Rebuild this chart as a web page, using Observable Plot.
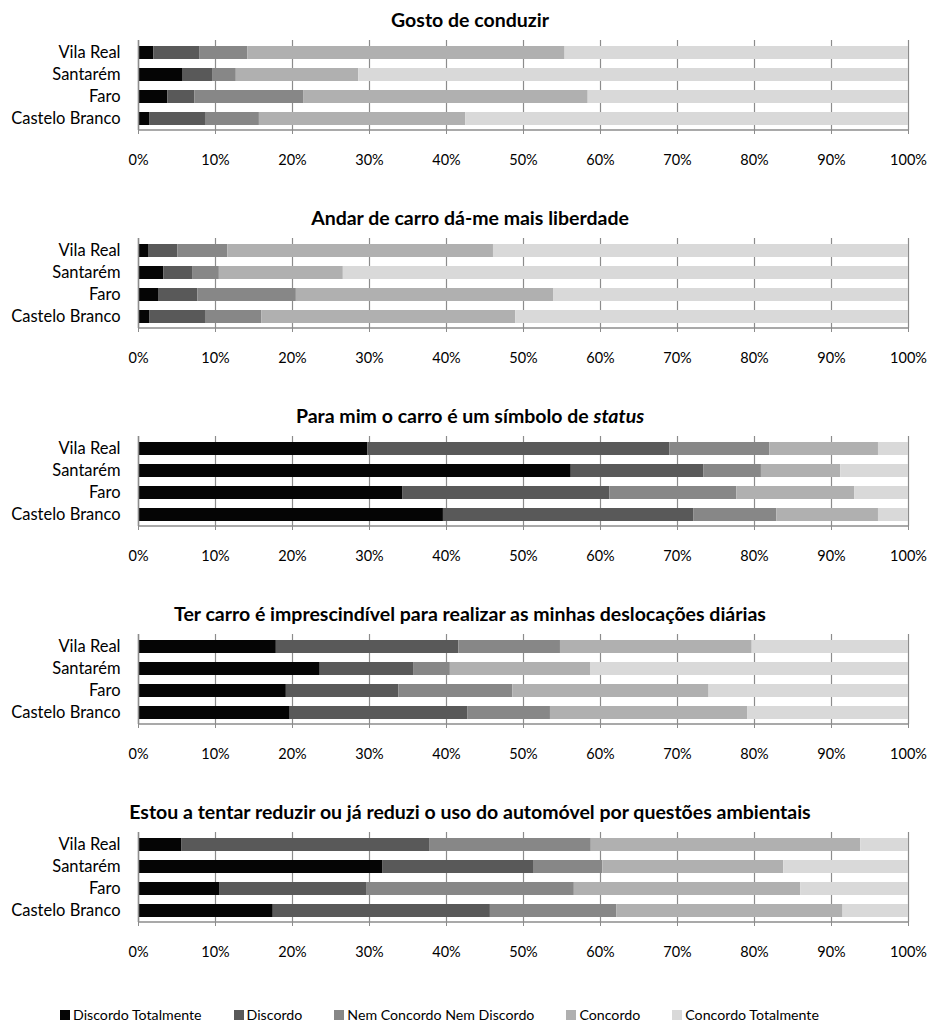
<!DOCTYPE html>
<html><head><meta charset="utf-8">
<script src="https://cdn.jsdelivr.net/npm/d3@7"></script>
<script src="https://cdn.jsdelivr.net/npm/@observablehq/plot@0.6"></script>
<style>
body{margin:0;background:#fff;font-family:Lato, "Noto Sans", sans-serif;color:#000;}
.panel{width:932px;height:198px;overflow:hidden;}
.title{height:34px;line-height:40px;text-align:center;font-weight:bold;font-size:19.5px;padding-left:8px;box-sizing:border-box;white-space:nowrap;}
#legend{display:flex;padding-left:60px;margin-top:15px;font-size:14.2px;line-height:20px;}
.item{display:flex;align-items:center;margin-right:32px;}
.sw{width:10px;height:10px;margin-right:3px;}
</style></head><body><div id="chart"></div><div id="legend"></div>
<script>
const cities = ["Vila Real", "Santarém", "Faro", "Castelo Branco"];
const levels = ["Discordo Totalmente", "Discordo", "Nem Concordo Nem Discordo", "Concordo", "Concordo Totalmente"];
const colors = ["#050505", "#595959", "#878787", "#b0b0b0", "#d9d9d9"];
const titles = [
  "Gosto de conduzir",
  "Andar de carro dá-me mais liberdade",
  "Para mim o carro é um símbolo de <i>status</i>",
  "Ter carro é imprescindível para realizar as minhas deslocações diárias",
  "Estou a tentar reduzir ou já reduzi o uso do automóvel por questões ambientais"
];
const xTicks = [0, 10, 20, 30, 40, 50, 60, 70, 80, 90, 100];

// values per city (rows, in cities order), per level (columns, in levels order)
const gostoConduzir = [
  [2.0, 6.0, 6.2, 41.2, 44.6],
  [5.8, 3.9, 3.0, 15.9, 71.4],
  [3.8, 3.5, 14.2, 36.9, 41.6],
  [1.5, 7.2, 7.0, 26.8, 57.5]
];
const liberdade = [
  [1.3, 3.8, 6.5, 34.5, 53.9],
  [3.3, 3.8, 3.4, 16.1, 73.4],
  [2.6, 5.1, 12.8, 33.4, 46.1],
  [1.5, 7.2, 7.3, 33.0, 51.0]
];
const simboloStatus = [
  [29.8, 39.2, 13.0, 14.1, 3.9],
  [56.2, 17.2, 7.5, 10.3, 8.8],
  [34.3, 26.9, 16.5, 15.3, 7.0],
  [39.6, 32.5, 10.8, 13.2, 3.9]
];
const imprescindivel = [
  [17.9, 23.7, 13.2, 24.9, 20.3],
  [23.6, 12.2, 4.7, 18.2, 41.3],
  [19.2, 14.6, 14.8, 25.5, 25.9],
  [19.7, 23.1, 10.7, 25.6, 20.9]
];
const reduzirUso = [
  [5.6, 32.2, 21.0, 35.0, 6.2],
  [31.7, 19.6, 9.0, 23.5, 16.2],
  [10.6, 19.1, 26.9, 29.4, 14.0],
  [17.5, 28.2, 16.4, 29.4, 8.5]
];
const panels = [gostoConduzir, liberdade, simboloStatus, imprescindivel, reduzirUso];

const gridColor = "#8c8c8c";
const font = "Lato, 'Noto Sans', sans-serif";

function bottomLine() {
  return (index, scales, values, dims) => {
    const g = document.createElementNS("http://www.w3.org/2000/svg", "line");
    g.setAttribute("x1", dims.marginLeft);
    g.setAttribute("x2", dims.width - dims.marginRight);
    g.setAttribute("y1", dims.height - dims.marginBottom);
    g.setAttribute("y2", dims.height - dims.marginBottom);
    g.setAttribute("stroke", gridColor);
    g.setAttribute("stroke-width", 1.5);
    return g;
  };
}

const chart = document.getElementById("chart");
panels.forEach((vals, pi) => {
  const rows = [];
  vals.forEach((r, ci) => r.forEach((v, li) => rows.push({city: cities[ci], level: levels[li], value: v})));
  const div = document.createElement("div");
  div.className = "panel";
  const t = document.createElement("div");
  t.className = "title";
  t.innerHTML = titles[pi];
  div.appendChild(t);
  const plot = Plot.plot({
    width: 932, height: 164,
    marginTop: 6, marginBottom: 68, marginLeft: 138, marginRight: 24,
    style: {fontFamily: font, fontSize: "14.5px", color: "#000", background: "#fff"},
    x: {domain: [0, 100], label: null},
    y: {domain: cities, label: null, paddingInner: 0.43, paddingOuter: 0.2},
    color: {domain: levels, range: colors},
    marks: [
      Plot.ruleX(xTicks, {stroke: gridColor, strokeWidth: 1.2}),
      Plot.barX(rows, Plot.stackX({x: "value", y: "city", fill: "level"})),
      Plot.ruleX([0], {stroke: gridColor, strokeWidth: 1.5}),
      bottomLine(),
      Plot.axisX(xTicks, {tickSize: 4, tickPadding: 20, stroke: gridColor, fill: "#000", tickFormat: d => d + "%", label: null}),
      Plot.axisY({tickSize: 0, tickPadding: 18, fill: "#000", fontSize: 16.5, label: null})
    ]
  });
  div.appendChild(plot);
  chart.appendChild(div);
});

const legend = document.getElementById("legend");
levels.forEach((l, i) => {
  const it = document.createElement("div");
  it.className = "item";
  it.innerHTML = `<span class="sw" style="background:${colors[i]}"></span><span>${l}</span>`;
  legend.appendChild(it);
});
</script>
</body></html>
